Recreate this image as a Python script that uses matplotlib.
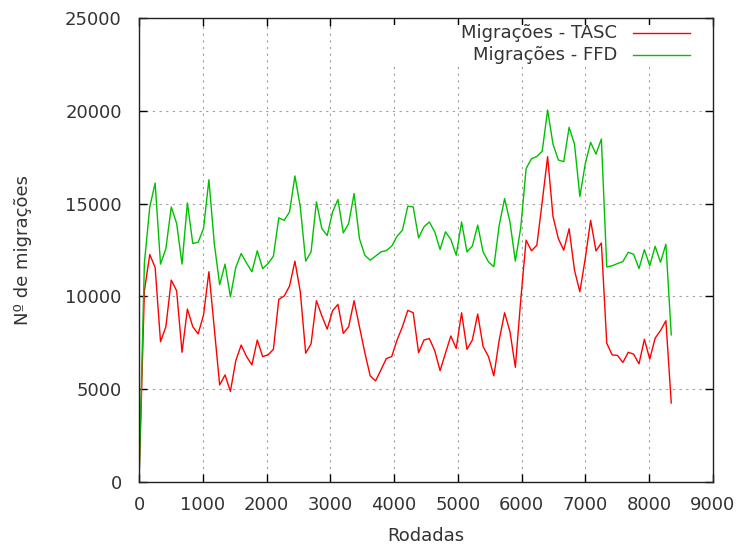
import matplotlib
matplotlib.use("Agg")
import matplotlib.pyplot as plt
from matplotlib.patches import Rectangle
import numpy as np

# migrations per sample, one sample every ~84 rounds
step = 84.3
tasc = [0, 10300, 12260, 11560, 7560, 8370, 10880, 10300, 6990, 9320,
        8370, 7980, 9000, 11330, 8280, 5230, 5770, 4880, 6540, 7380,
        6760, 6310, 7650, 6760, 6850, 7150, 9840, 10020, 10560, 11900,
        10250, 6940, 7440, 9770, 8960, 8240, 9230, 9570, 8010, 8370,
        9770, 8370, 6970, 5720, 5450, 6040, 6650, 6760, 7650, 8370,
        9250, 9120, 6970, 7650, 7730, 7080, 6000, 6940, 7870, 7200,
        9120, 7150, 7650, 9050, 7300, 6760, 5720, 7650, 9120, 8100,
        6180, 9800, 13030, 12460, 12760, 15100, 17530, 14310, 13110, 12490,
        13650, 11410, 10250, 12040, 14100, 12450, 12880, 7480, 6850, 6820,
        6440, 6990, 6890, 6370, 7690, 6620, 7750, 8160, 8690, 4260]
ffd = [0, 11800, 14820, 16110, 11740, 12580, 14820, 13930, 11740, 15040,
       12850, 12920, 13660, 16290, 12850, 10630, 11740, 9980, 11560, 12310,
       11800, 11330, 12460, 11500, 11770, 12170, 14230, 14100, 14550, 16490,
       14820, 11900, 12400, 15090, 13660, 13280, 14550, 15220, 13420, 13930,
       15540, 13120, 12220, 11950, 12170, 12400, 12470, 12710, 13240, 13570,
       14860, 14820, 13150, 13750, 14010, 13480, 12530, 13480, 13070, 12220,
       14010, 12400, 12710, 13840, 12400, 11860, 11600, 13840, 15270, 14010,
       11900, 13700, 16880, 17420, 17540, 17830, 20040, 18210, 17350, 17260,
       19110, 18210, 15380, 17140, 18300, 17670, 18480, 11590, 11650, 11770,
       11880, 12380, 12270, 11500, 12520, 11650, 12700, 11840, 12810, 7930]
labels = ["Migrações - TASC", "Migrações - FFD"]
colors = ["#ff0000", "#00c000"]
xticks = [0, 1000, 2000, 3000, 4000, 5000, 6000, 7000, 8000, 9000]
yticks = [0, 5000, 10000, 15000, 20000, 25000]

rodadas = np.arange(len(tasc)) * step
txt = "#333333"
fs = 13

fig = plt.figure(figsize=(7.41, 5.51), dpi=100)
ax = fig.add_axes([0.1876, 0.1252, 0.7746, 0.8421])

ax.set_xlim(0, 9000)
ax.set_ylim(0, 25000)
ax.set_xticks(xticks)
ax.set_yticks(yticks)
ax.tick_params(direction="in", length=6, width=1, top=True, right=True,
               labelsize=fs, labelcolor=txt, color="black")
ax.tick_params(axis="x", pad=10)
ax.tick_params(axis="y", pad=12.5)
for s in ax.spines.values():
    s.set_linewidth(1.0)
    s.set_color("#222222")

ax.set_axisbelow(True)
ax.grid(True, color="#a0a0a0", linewidth=0.8, linestyle=(0, (2, 4)))

for ys, c in zip([tasc, ffd], colors):
    ax.plot(rodadas, ys, color=c, linewidth=1.0, zorder=2)

# key area hides the grid, like gnuplot's opaque key
ax.add_patch(Rectangle((0.42, 0.897), 0.57, 0.087, transform=ax.transAxes,
                       facecolor="white", edgecolor="none", zorder=1))
key_y = [0.968, 0.920]
for lab, c, ky in zip(labels, colors, key_y):
    ax.text(0.8328, ky, lab, transform=ax.transAxes, ha="right", va="center",
            fontsize=fs, color=txt, zorder=3)
    ax.plot([0.8606, 0.960], [ky, ky], transform=ax.transAxes, color=c,
            linewidth=1.0, zorder=3)

ax.set_xlabel("Rodadas", fontsize=fs, color=txt)
ax.set_ylabel("Nº de migrações", fontsize=fs, color=txt)
ax.xaxis.set_label_coords(0.5, -0.096)
ax.yaxis.set_label_coords(-0.186, 0.5)

fig.savefig("out.png", dpi=100)
